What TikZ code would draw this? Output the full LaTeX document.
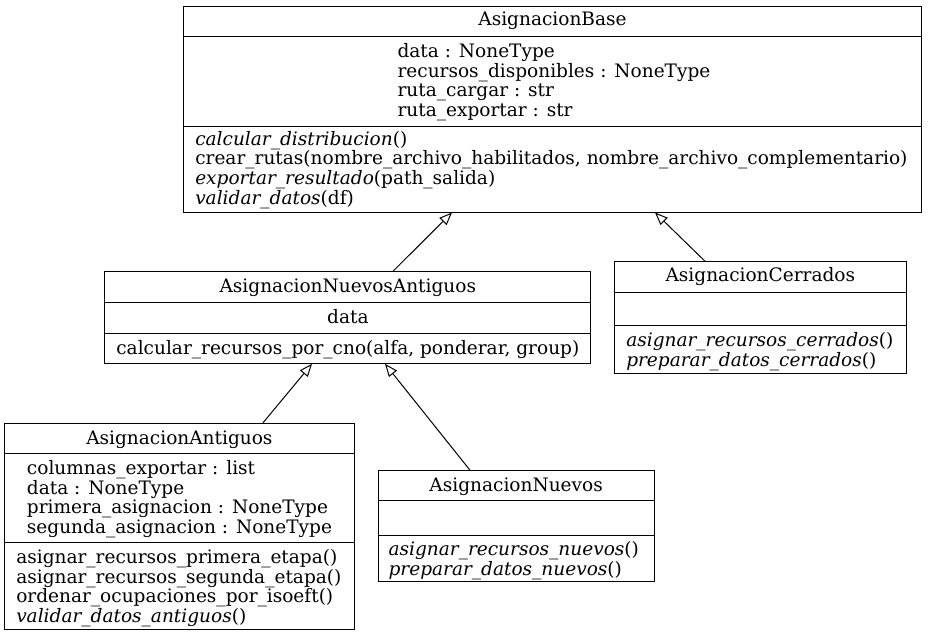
\documentclass[tikz,border=0pt]{standalone}
\usepackage{fontspec}
\setmainfont{DejaVu Serif}
\usetikzlibrary{arrows.meta}
\tikzset{
  umlbox/.style={draw=black, line width=0.75pt, fill=white, inner sep=0pt, rectangle},
  sepline/.style={draw=black, line width=0.75pt},
  ln/.style={inner sep=0pt, anchor=base west, font=\fontsize{13.9}{14.8}\selectfont},
  ctr/.style={inner sep=0pt, anchor=base, font=\fontsize{13.9}{14.8}\selectfont},
  inh/.style={draw=black, line width=0.75pt, -{Triangle[open, length=9.6pt, width=7.6pt]}}
}
\begin{document}
\begin{tikzpicture}[x=0.75pt, y=-0.75pt]
\useasboundingbox (0,0) rectangle (928,636);

% ---------- AsignacionBase
\node[umlbox, minimum width=553.8pt, minimum height=154.5pt] (base) at (552.5,109) {};
\draw[sepline] (base.west |- 0,36.7) -- (base.east |- 0,36.7);
\draw[sepline] (base.west |- 0,126.7) -- (base.east |- 0,126.7);
\node[ctr] (baseT) at (552.5,25.7) {AsignacionBase};
\node[ln] (baseA1) at (397.3,57.3) {data : NoneType};
\node[ln] (baseA2) at (397.3,77.0) {recursos\_disponibles : NoneType};
\node[ln] (baseA3) at (397.3,96.7) {ruta\_cargar : str};
\node[ln] (baseA4) at (397.3,116.4) {ruta\_exportar : str};
\node[ln] (baseM1) at (195,145) {\textit{calcular\_distribucion}()};
\node[ln] (baseM2) at (195,164.7) {crear\_rutas(nombre\_archivo\_habilitados, nombre\_archivo\_complementario)};
\node[ln] (baseM3) at (195,184.4) {\textit{exportar\_resultado}(path\_salida)};
\node[ln] (baseM4) at (195,204.1) {\textit{validar\_datos}(df)};

% ---------- AsignacionNuevosAntiguos
\node[umlbox, minimum width=364.3pt, minimum height=68.7pt] (na) at (347.85,317.5) {};
\draw[sepline] (na.west |- 0,302.7) -- (na.east |- 0,302.7);
\draw[sepline] (na.west |- 0,333.3) -- (na.east |- 0,333.3);
\node[ctr] (naT) at (347.85,292.3) {AsignacionNuevosAntiguos};
\node[ctr] (naA1) at (347.85,323.3) {data};
\node[ctr] (naM1) at (347.85,354.3) {calcular\_recursos\_por\_cno(alfa, ponderar, group)};

% ---------- AsignacionCerrados
\node[umlbox, minimum width=219.5pt, minimum height=83.7pt] (cer) at (760.35,317.5) {};
\draw[sepline] (cer.west |- 0,292.3) -- (cer.east |- 0,292.3);
\draw[sepline] (cer.west |- 0,325.7) -- (cer.east |- 0,325.7);
\node[ctr] (cerT) at (760.35,281.7) {AsignacionCerrados};
\node[ln] (cerM1) at (626,346.7) {\textit{asignar\_recursos\_cerrados}()};
\node[ln] (cerM2) at (626,366.4) {\textit{preparar\_datos\_cerrados}()};

% ---------- AsignacionAntiguos
\node[umlbox, minimum width=262.4pt, minimum height=154.3pt] (ant) at (179.4,526.15) {};
\draw[sepline] (ant.west |- 0,453.3) -- (ant.east |- 0,453.3);
\draw[sepline] (ant.west |- 0,542.7) -- (ant.east |- 0,542.7);
\node[ctr] (antT) at (179.4,444.3) {AsignacionAntiguos};
\node[ln] (antA1) at (26.7,474.3) {columnas\_exportar : list};
\node[ln] (antA2) at (26.7,494.0) {data : NoneType};
\node[ln] (antA3) at (26.7,513.7) {primera\_asignacion : NoneType};
\node[ln] (antA4) at (26.7,533.4) {segunda\_asignacion : NoneType};
\node[ln] (antM1) at (16,563.3) {asignar\_recursos\_primera\_etapa()};
\node[ln] (antM2) at (16,583.0) {asignar\_recursos\_segunda\_etapa()};
\node[ln] (antM3) at (16,602.7) {ordenar\_ocupaciones\_por\_isoeft()};
\node[ln] (antM4) at (16,622.4) {\textit{validar\_datos\_antiguos}()};

% ---------- AsignacionNuevos
\node[umlbox, minimum width=206.8pt, minimum height=83.25pt] (nue) at (516.15,526.2) {};
\draw[sepline] (nue.west |- 0,500.7) -- (nue.east |- 0,500.7);
\draw[sepline] (nue.west |- 0,535) -- (nue.east |- 0,535);
\node[ctr] (nueT) at (516.15,491) {AsignacionNuevos};
\node[ln] (nueM1) at (388.3,555.7) {\textit{asignar\_recursos\_nuevos}()};
\node[ln] (nueM2) at (388.3,575.4) {\textit{preparar\_datos\_nuevos}()};

% ---------- inheritance connectors
\coordinate (naUp) at (393,0 |- na.north);
\coordinate (baseDn1) at (452,0 |- base.south);
\coordinate (cerUp) at (705,0 |- cer.north);
\coordinate (baseDn2) at (655,0 |- base.south);
\coordinate (antUp) at (263,0 |- ant.north);
\coordinate (naDn1) at (312,0 |- na.south);
\coordinate (nueUp) at (470,0 |- nue.north);
\coordinate (naDn2) at (385,0 |- na.south);
\draw[inh] (naUp) -- (baseDn1);
\draw[inh] (cerUp) -- (baseDn2);
\draw[inh] (antUp) -- (naDn1);
\draw[inh] (nueUp) -- (naDn2);
\end{tikzpicture}
\end{document}
